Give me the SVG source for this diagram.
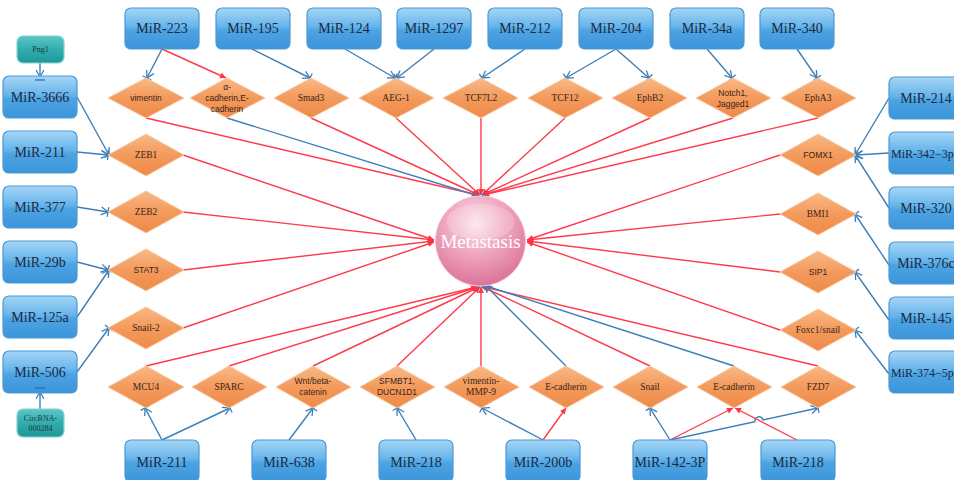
<svg xmlns="http://www.w3.org/2000/svg" width="954" height="480" viewBox="0 0 954 480">
<defs>
<linearGradient id="gBox" x1="0" y1="0" x2="0" y2="1">
<stop offset="0" stop-color="#a6d6f6"/><stop offset="0.45" stop-color="#66b4eb"/><stop offset="0.55" stop-color="#4ca3e3"/><stop offset="1" stop-color="#3c95da"/>
</linearGradient>
<linearGradient id="gTeal" x1="0" y1="0" x2="0" y2="1">
<stop offset="0" stop-color="#5cc6c6"/><stop offset="0.5" stop-color="#33acae"/><stop offset="1" stop-color="#1f9798"/>
</linearGradient>
<linearGradient id="gDia" x1="0" y1="0" x2="0" y2="1">
<stop offset="0" stop-color="#f9b985"/><stop offset="0.5" stop-color="#f39a5c"/><stop offset="1" stop-color="#ee8a48"/>
</linearGradient>
<radialGradient id="gBall" cx="0.45" cy="0.3" r="0.75">
<stop offset="0" stop-color="#fbe3ec"/><stop offset="0.45" stop-color="#f0a7c1"/><stop offset="1" stop-color="#d86d92"/>
</radialGradient>
<marker id="mb" viewBox="-10 -8 12 16" refX="0" refY="0" markerWidth="12" markerHeight="16" markerUnits="userSpaceOnUse" orient="auto">
<path d="M-7,-4 L0,0 L-7,4" fill="none" stroke="#3d7fb8" stroke-width="1.3"/>
<path d="M0,-5 L0,5" stroke="#3d7fb8" stroke-width="1.3"/>
</marker>
<marker id="mr" viewBox="-8 -5 10 10" refX="0" refY="0" markerWidth="10" markerHeight="10" markerUnits="userSpaceOnUse" orient="auto">
<path d="M-6,-3 L0,0 L-6,3 Z" fill="#ff3344"/>
</marker>
<style>
.box{fill:url(#gBox);stroke:#4b98d6;stroke-width:1.2}
.teal{fill:url(#gTeal);stroke:#86d2d2;stroke-width:1.2}
.dia{fill:url(#gDia);stroke:#f8c9a4;stroke-width:1}
.mt{font-family:"Liberation Serif",serif;font-size:14px;fill:#1c2a3c;text-anchor:middle}
.ds{font-family:"Liberation Serif",serif;font-size:9.5px;fill:#3a2418;text-anchor:middle}
.dn{font-family:"Liberation Sans",sans-serif;font-size:8.5px;fill:#3a2418;text-anchor:middle}
.tt{font-family:"Liberation Serif",serif;font-size:8px;fill:#1a3a3a;text-anchor:middle}
.b{fill:none;stroke:#3d7fb8;stroke-width:1.4;marker-end:url(#mb)}
.r{fill:none;stroke:#ff3a4a;stroke-width:1.4;marker-end:url(#mr)}
</style>
</defs>
<rect width="954" height="480" fill="#ffffff"/>

<g id="connectors">
<path class="r" d="M146,118 L478,195"/>
<path class="r" d="M311,118 L479,195"/>
<path class="r" d="M396,118 L480,195"/>
<path class="r" d="M481,118 L481,195"/>
<path class="r" d="M565,118 L482,195"/>
<path class="r" d="M650,118 L482,195"/>
<path class="r" d="M733,118 L483,195"/>
<path class="r" d="M818,118 L483,195"/>
<path class="b" d="M227,118 L485,198"/>
<path class="r" d="M183,155 L434,240"/>
<path class="r" d="M183,212 L434,240"/>
<path class="r" d="M183,270 L434,241"/>
<path class="r" d="M183,328 L434,242"/>
<path class="r" d="M780,155 L527,240"/>
<path class="r" d="M780,214 L527,240"/>
<path class="r" d="M780,272 L527,241"/>
<path class="r" d="M780,330 L527,242"/>
<path class="r" d="M146,366 L477,287"/>
<path class="r" d="M229,366 L478,287"/>
<path class="r" d="M313,366 L479,287"/>
<path class="r" d="M397,366 L480,287"/>
<path class="r" d="M481,366 L481,287"/>
<path class="r" d="M650,366 L483,287"/>
<path class="r" d="M818,366 L484,287"/>
<path class="b" d="M566,366 L485,285"/>
<path class="b" d="M734,366 L480,284"/>
<path class="b" d="M162,49 L147,78"/>
<path class="r" d="M162,49 L226,78"/>
<path class="b" d="M252,49 L310,78"/>
<path class="b" d="M345,49 L395,78"/>
<path class="b" d="M434,49 L397,78"/>
<path class="b" d="M525,49 L482,78"/>
<path class="b" d="M616,49 L566,78"/>
<path class="b" d="M616,49 L649,78"/>
<path class="b" d="M707,49 L732,78"/>
<path class="b" d="M797,49 L817,78"/>
<path class="b" d="M40,63 L40,77"/>
<path class="b" d="M77,97 L109,155"/>
<path class="b" d="M77,152 L108,155"/>
<path class="b" d="M77,207 L108,212"/>
<path class="b" d="M77,262 L108,270"/>
<path class="b" d="M77,317 L109,270"/>
<path class="b" d="M77,372 L109,328"/>
<path class="b" d="M40,409 L40,392"/>
<path class="b" d="M889,98 L855,155"/>
<path class="b" d="M889,153 L856,155"/>
<path class="b" d="M889,208 L855,155"/>
<path class="b" d="M889,265 L855,214"/>
<path class="b" d="M889,320 L855,272"/>
<path class="b" d="M889,374 L855,330"/>
<path class="b" d="M162,440 L145,408"/>
<path class="b" d="M162,440 L230,408"/>
<path class="b" d="M289,440 L313,408"/>
<path class="b" d="M416,440 L397,408"/>
<path class="b" d="M543,440 L482,408"/>
<path class="r" d="M543,440 L566,408"/>
<path class="b" d="M670,440 L650,408"/>
<path class="r" d="M670,440 L733,408"/>
<path class="b" d="M670,440 L755,421.7 A4,4 0 0 1 763,420 L818,408"/>
<path class="r" d="M797,440 L735,408"/>
</g>

<g id="metastasis">
<circle cx="480.5" cy="241" r="45" fill="url(#gBall)" stroke="#f3c0d2" stroke-width="1"/>
<ellipse cx="480.5" cy="222" rx="34" ry="18" fill="#ffffff" opacity="0.18"/>
<text x="480.5" y="248" font-family="Liberation Serif,serif" font-size="19" fill="#ffffff" text-anchor="middle">Metastasis</text>
</g>

<g id="mir-top">
<g id="mir223"><rect class="box" x="125" y="8" width="74" height="41" rx="6"/><text class="mt" x="162" y="33">MiR-223</text></g>
<g id="mir195"><rect class="box" x="216" y="8" width="74" height="41" rx="6"/><text class="mt" x="253" y="33">MiR-195</text></g>
<g id="mir124"><rect class="box" x="307" y="8" width="74" height="41" rx="6"/><text class="mt" x="344" y="33">MiR-124</text></g>
<g id="mir1297"><rect class="box" x="397" y="8" width="74" height="41" rx="6"/><text class="mt" x="434" y="33">MiR-1297</text></g>
<g id="mir212"><rect class="box" x="488" y="8" width="74" height="41" rx="6"/><text class="mt" x="525" y="33">MiR-212</text></g>
<g id="mir204"><rect class="box" x="579" y="8" width="74" height="41" rx="6"/><text class="mt" x="616" y="33">MiR-204</text></g>
<g id="mir34a"><rect class="box" x="670" y="8" width="74" height="41" rx="6"/><text class="mt" x="707" y="33">MiR-34a</text></g>
<g id="mir340"><rect class="box" x="760" y="8" width="74" height="41" rx="6"/><text class="mt" x="797" y="33">MiR-340</text></g>
</g>

<g id="mir-left">
<g id="png1"><rect class="teal" x="17" y="36" width="47" height="27" rx="6"/><text class="tt" x="40.5" y="52">Png1</text></g>
<g id="mir3666"><rect class="box" x="3" y="76" width="74" height="42" rx="6"/><text class="mt" x="40" y="102">MiR-3666</text><path d="M35,80 L45,80" stroke="#2d6aa0" stroke-width="1.2"/></g>
<g id="mir211a"><rect class="box" x="3" y="131" width="74" height="42" rx="6"/><text class="mt" x="40" y="157">MiR-211</text></g>
<g id="mir377"><rect class="box" x="3" y="186" width="74" height="42" rx="6"/><text class="mt" x="40" y="212">MiR-377</text></g>
<g id="mir29b"><rect class="box" x="3" y="241" width="74" height="42" rx="6"/><text class="mt" x="40" y="267">MiR-29b</text></g>
<g id="mir125a"><rect class="box" x="3" y="296" width="74" height="42" rx="6"/><text class="mt" x="40" y="322">MiR-125a</text></g>
<g id="mir506"><rect class="box" x="3" y="351" width="74" height="42" rx="6"/><text class="mt" x="40" y="377">MiR-506</text><path d="M35,388 L45,388" stroke="#2d6aa0" stroke-width="1.2"/></g>
<g id="circrna"><rect class="teal" x="17" y="409" width="47" height="28" rx="6"/><text class="tt" x="40.5" y="421">CircRNA-</text><text class="tt" x="40.5" y="431">000284</text></g>
</g>

<g id="mir-right">
<g id="mir214"><rect class="box" x="889" y="77" width="74" height="42" rx="6"/><text class="mt" x="926" y="103">MiR-214</text></g>
<g id="mir342"><rect class="box" x="889" y="132" width="74" height="42" rx="6"/><text class="mt" x="891" y="158" style="text-anchor:start;font-size:12px">MiR-342−3p</text></g>
<g id="mir320"><rect class="box" x="889" y="187" width="74" height="42" rx="6"/><text class="mt" x="926" y="213">MiR-320</text></g>
<g id="mir376c"><rect class="box" x="889" y="242" width="74" height="42" rx="6"/><text class="mt" x="926" y="268">MiR-376c</text></g>
<g id="mir145"><rect class="box" x="889" y="297" width="74" height="42" rx="6"/><text class="mt" x="926" y="323">MiR-145</text></g>
<g id="mir374"><rect class="box" x="889" y="351" width="74" height="42" rx="6"/><text class="mt" x="891" y="377" style="text-anchor:start;font-size:12px">MiR-374−5p</text></g>
</g>

<g id="mir-bottom">
<g id="mir211b"><rect class="box" x="125" y="440" width="74" height="42" rx="6"/><text class="mt" x="162" y="467">MiR-211</text></g>
<g id="mir638"><rect class="box" x="252" y="440" width="74" height="42" rx="6"/><text class="mt" x="289" y="467">MiR-638</text></g>
<g id="mir218a"><rect class="box" x="379" y="440" width="74" height="42" rx="6"/><text class="mt" x="416" y="467">MiR-218</text></g>
<g id="mir200b"><rect class="box" x="506" y="440" width="74" height="42" rx="6"/><text class="mt" x="543" y="467">MiR-200b</text></g>
<g id="mir142"><rect class="box" x="633" y="440" width="74" height="42" rx="6"/><text class="mt" x="670" y="467">MiR-142-3P</text></g>
<g id="mir218b"><rect class="box" x="761" y="440" width="74" height="42" rx="6"/><text class="mt" x="798" y="467">MiR-218</text></g>
</g>

<g id="targets-top">
<g id="t-vimentin"><path class="dia" d="M108,98 L146,78 L184,98 L146,118 Z"/><text class="dn" x="146" y="101">vimentin</text></g>
<g id="t-acad"><path class="dia" d="M190,98 L227,78 L265,98 L227,118 Z"/><text class="dn" x="227" y="90">α-</text><text class="dn" x="227" y="101">cadherin,E-</text><text class="dn" x="227" y="112">cadherin</text></g>
<g id="t-smad3"><path class="dia" d="M274,98 L311,78 L349,98 L311,118 Z"/><text class="ds" x="311" y="101">Smad3</text></g>
<g id="t-aeg1"><path class="dia" d="M359,98 L396,78 L434,98 L396,118 Z"/><text class="ds" x="396" y="101">AEG-1</text></g>
<g id="t-tcf7l2"><path class="dia" d="M443,98 L481,78 L518,98 L481,118 Z"/><text class="ds" x="481" y="101">TCF7L2</text></g>
<g id="t-tcf12"><path class="dia" d="M528,98 L565,78 L603,98 L565,118 Z"/><text class="ds" x="565" y="101">TCF12</text></g>
<g id="t-ephb2"><path class="dia" d="M612,98 L650,78 L687,98 L650,118 Z"/><text class="ds" x="650" y="101">EphB2</text></g>
<g id="t-notch1"><path class="dia" d="M696,98 L733,78 L771,98 L733,118 Z"/><text class="dn" x="733" y="96">Notch1,</text><text class="dn" x="733" y="107">Jagged1</text></g>
<g id="t-epha3"><path class="dia" d="M781,98 L818,78 L856,98 L818,118 Z"/><text class="ds" x="818" y="101">EphA3</text></g>
</g>

<g id="targets-left">
<g id="t-zeb1"><path class="dia" d="M108,155 L146,134 L184,155 L146,176 Z"/><text class="ds" x="146" y="158">ZEB1</text></g>
<g id="t-zeb2"><path class="dia" d="M108,212 L146,191 L184,212 L146,233 Z"/><text class="ds" x="146" y="215">ZEB2</text></g>
<g id="t-stat3"><path class="dia" d="M108,270 L146,249 L184,270 L146,291 Z"/><text class="dn" x="146" y="273">STAT3</text></g>
<g id="t-snail2"><path class="dia" d="M108,328 L146,307 L184,328 L146,349 Z"/><text class="ds" x="146" y="331">Snail-2</text></g>
</g>

<g id="targets-right">
<g id="t-fomx1"><path class="dia" d="M780,155 L818,134 L856,155 L818,176 Z"/><text class="dn" x="818" y="158">FOMX1</text></g>
<g id="t-bmi1"><path class="dia" d="M780,214 L818,193 L856,214 L818,235 Z"/><text class="ds" x="818" y="217">BMI1</text></g>
<g id="t-sip1"><path class="dia" d="M780,272 L818,251 L856,272 L818,293 Z"/><text class="dn" x="818" y="275">SIP1</text></g>
<g id="t-foxc1"><path class="dia" d="M780,330 L818,309 L856,330 L818,351 Z"/><text class="ds" x="818" y="333">Foxc1/snail</text></g>
</g>

<g id="targets-bottom">
<g id="t-mcu4"><path class="dia" d="M108,387 L146,366 L184,387 L146,408 Z"/><text class="ds" x="146" y="390">MCU4</text></g>
<g id="t-sparc"><path class="dia" d="M192,387 L229,366 L267,387 L229,408 Z"/><text class="ds" x="229" y="390">SPARC</text></g>
<g id="t-wnt"><path class="dia" d="M276,387 L313,366 L351,387 L313,408 Z"/><text class="dn" x="313" y="384">Wnt/beta-</text><text class="dn" x="313" y="395">catenin</text></g>
<g id="t-sfmbt1"><path class="dia" d="M360,387 L397,366 L435,387 L397,408 Z"/><text class="dn" x="397" y="384">SFMBT1,</text><text class="dn" x="397" y="395">DUCN1D1</text></g>
<g id="t-vimmmp"><path class="dia" d="M444,387 L481,366 L519,387 L481,408 Z"/><text class="ds" x="481" y="384" font-size="8">vimentin-</text><text class="ds" x="481" y="395">MMP-9</text></g>
<g id="t-ecad1"><path class="dia" d="M529,387 L566,366 L604,387 L566,408 Z"/><text class="ds" x="566" y="390">E-cadherin</text></g>
<g id="t-snail"><path class="dia" d="M613,387 L650,366 L688,387 L650,408 Z"/><text class="ds" x="650" y="390">Snail</text></g>
<g id="t-ecad2"><path class="dia" d="M697,387 L734,366 L772,387 L734,408 Z"/><text class="ds" x="734" y="390">E-cadherin</text></g>
<g id="t-fzd7"><path class="dia" d="M781,387 L818,366 L856,387 L818,408 Z"/><text class="ds" x="818" y="390">FZD7</text></g>
</g>
</svg>
